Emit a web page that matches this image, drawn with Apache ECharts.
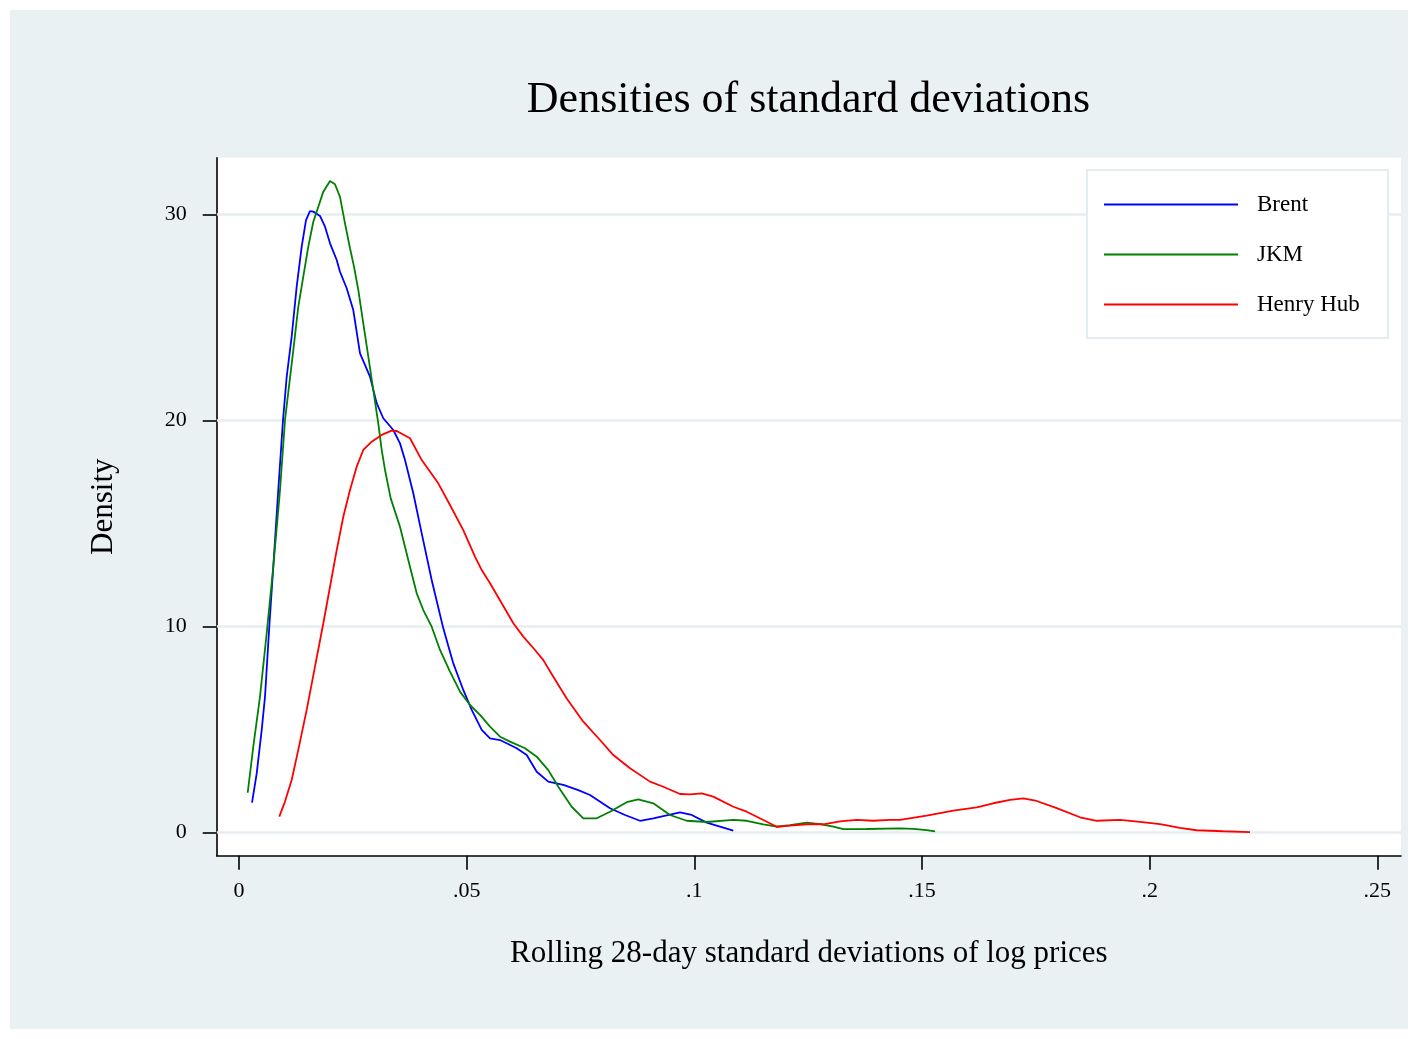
<!DOCTYPE html>
<html>
<head>
<meta charset="utf-8">
<script src="https://cdn.jsdelivr.net/npm/echarts@6.0.0/dist/echarts.min.js"></script>
<style>
  html, body { margin: 0; padding: 0; background: #ffffff; }
  #main { position: absolute; left: 10px; top: 10px; width: 1398px; height: 1019px; }
</style>
</head>
<body>
<div id="main"></div>
<script>
// tick values of the two axes
const xTicks = [0, 0.05, 0.1, 0.15, 0.2, 0.25];
const yTicks = [0, 10, 20, 30];

// kernel density curves: [std dev, density]
const brent = [
  [0.00286, 1.44], [0.00389, 2.86], [0.00499, 4.97], [0.00571, 6.58], [0.00665, 9.98],
  [0.00753, 12.89], [0.00863, 16.62], [0.00966, 20.0], [0.01048, 22.12], [0.01157, 24.06],
  [0.01267, 26.49], [0.01377, 28.43], [0.01472, 29.72], [0.01559, 30.16], [0.01632, 30.13],
  [0.01779, 29.92], [0.01889, 29.40], [0.01999, 28.59], [0.02146, 27.78], [0.02218, 27.21],
  [0.02365, 26.41], [0.02510, 25.35], [0.02658, 23.25], [0.02877, 22.12], [0.03024, 20.83],
  [0.03169, 20.10], [0.03389, 19.53], [0.03536, 18.88], [0.03646, 18.07], [0.03828, 16.46],
  [0.04013, 14.51], [0.04232, 12.25], [0.04487, 9.90], [0.04707, 8.20], [0.04926, 6.91],
  [0.05111, 5.94], [0.05331, 4.97], [0.05513, 4.56], [0.05733, 4.48], [0.06099, 4.08],
  [0.06319, 3.75], [0.06539, 2.94], [0.06793, 2.46], [0.07123, 2.30], [0.07452, 2.05],
  [0.07709, 1.81], [0.08149, 1.17], [0.08478, 0.84], [0.08807, 0.56], [0.09100, 0.68],
  [0.09686, 0.97], [0.09943, 0.84], [0.10272, 0.47], [0.10857, 0.08]
];
const jkm = [
  [0.00191, 1.92], [0.00314, 4.16], [0.00461, 6.58], [0.00608, 9.66], [0.00753, 12.89],
  [0.00901, 16.62], [0.01010, 20.01], [0.01193, 23.41], [0.01302, 25.51], [0.01412, 26.97],
  [0.01522, 28.43], [0.01632, 29.64], [0.01742, 30.37], [0.01852, 31.10], [0.01999, 31.62],
  [0.02108, 31.46], [0.02218, 30.85], [0.02328, 29.56], [0.02438, 28.35], [0.02526, 27.46],
  [0.02620, 26.33], [0.02730, 24.71], [0.02840, 23.09], [0.02950, 21.47], [0.03059, 19.85],
  [0.03134, 18.56], [0.03207, 17.59], [0.03332, 16.21], [0.03536, 14.83], [0.03718, 13.22],
  [0.03903, 11.60], [0.04048, 10.79], [0.04232, 9.98], [0.04415, 8.85], [0.04634, 7.80],
  [0.04854, 6.83], [0.05074, 6.18], [0.05293, 5.70], [0.05513, 5.13], [0.05733, 4.64],
  [0.05952, 4.40], [0.06282, 4.08], [0.06539, 3.67], [0.06793, 3.02], [0.07013, 2.21],
  [0.07307, 1.24], [0.07562, 0.68], [0.07856, 0.68], [0.08149, 1.00], [0.08515, 1.46],
  [0.08770, 1.60], [0.09100, 1.41], [0.09466, 0.84], [0.09833, 0.56], [0.10272, 0.50],
  [0.10857, 0.60], [0.11151, 0.56], [0.11516, 0.39], [0.11810, 0.27], [0.12103, 0.35],
  [0.12470, 0.47], [0.12762, 0.40], [0.13055, 0.27], [0.13273, 0.15], [0.13787, 0.16],
  [0.14518, 0.19], [0.14810, 0.17], [0.15104, 0.11], [0.15287, 0.05]
];
const henryHub = [
  [0.00885, 0.76], [0.01010, 1.49], [0.01157, 2.54], [0.01302, 4.00], [0.01487, 5.94],
  [0.01669, 8.04], [0.01852, 10.15], [0.01999, 11.92], [0.02146, 13.70], [0.02291, 15.32],
  [0.02438, 16.62], [0.02585, 17.75], [0.02730, 18.56], [0.02915, 18.96], [0.03134, 19.29],
  [0.03354, 19.50], [0.03464, 19.48], [0.03756, 19.13], [0.04013, 18.07], [0.04377, 16.94],
  [0.04634, 15.89], [0.04926, 14.67], [0.05183, 13.38], [0.05331, 12.73], [0.05513, 12.09],
  [0.05770, 11.12], [0.06025, 10.15], [0.06244, 9.50], [0.06501, 8.85], [0.06684, 8.36],
  [0.06903, 7.55], [0.07198, 6.50], [0.07562, 5.37], [0.07929, 4.48], [0.08221, 3.75],
  [0.08588, 3.11], [0.09027, 2.46], [0.09319, 2.21], [0.09686, 1.86], [0.09906, 1.84],
  [0.10162, 1.89], [0.10417, 1.73], [0.10857, 1.24], [0.11151, 1.00], [0.11516, 0.60],
  [0.11810, 0.27], [0.12103, 0.32], [0.12470, 0.39], [0.12833, 0.39], [0.13200, 0.53],
  [0.13567, 0.60], [0.13931, 0.56], [0.14298, 0.60], [0.14518, 0.60], [0.15104, 0.81],
  [0.15689, 1.05], [0.16203, 1.21], [0.16567, 1.41], [0.16934, 1.57], [0.17226, 1.65],
  [0.17520, 1.52], [0.17960, 1.17], [0.18471, 0.73], [0.18838, 0.56], [0.19350, 0.60],
  [0.19789, 0.51], [0.20229, 0.40], [0.20668, 0.22], [0.21034, 0.10], [0.21619, 0.05],
  [0.22205, 0.01]
];

const seriesNames = ['Brent', 'JKM', 'Henry Hub'];
const seriesColors = ['#0000ff', '#008000', '#ff0000'];

const serif = '"Liberation Serif", "DejaVu Serif", serif';
const axisBlack = { show: true, onZero: false, lineStyle: { color: '#000', width: 1.6 } };

let myChart = echarts.init(document.getElementById('main'));

let option = {
  backgroundColor: '#eaf1f3',
  animation: false,
  textStyle: { fontFamily: serif, color: '#000' },
  graphic: [
    {
      type: 'text',
      x: 798.5, y: 90,
      style: {
        text: 'Densities of standard deviations',
        font: '44px ' + serif,
        fill: '#000',
        align: 'center',
        verticalAlign: 'middle'
      }
    },
    {
      // legend frame
      type: 'rect',
      z: 3,
      shape: { x: 1077, y: 160, width: 301, height: 168 },
      style: { fill: '#fff', stroke: '#e4ecef', lineWidth: 2 }
    }
  ],
  legend: {
    orient: 'vertical',
    left: 1094,
    top: 183,
    padding: 0,
    z: 5,
    icon: 'rect',
    itemWidth: 134,
    itemHeight: 2,
    itemGap: 27,
    data: seriesNames,
    textStyle: { fontFamily: serif, fontSize: 23, color: '#000', padding: [0, 0, 0, 14] }
  },
  grid: [
    // plot area, holds the curves
    { left: 206.7, top: 147.7, width: 1184.3, height: 698, show: true, backgroundColor: '#fff', borderWidth: 0 },
    // x tick grid, exactly 0 .. .25
    { left: 229, top: 147.7, width: 1138.3, height: 698 },
    // y tick grid, exactly 0 .. 30
    { left: 206.7, top: 204.3, width: 1184.3, height: 618 }
  ],
  xAxis: [
    {
      gridIndex: 0, type: 'value', min: -0.004898, max: 0.255216,
      axisLine: axisBlack, axisTick: { show: false }, axisLabel: { show: false }, splitLine: { show: false },
      name: 'Rolling 28-day standard deviations of log prices',
      nameLocation: 'middle', nameGap: 83,
      nameTextStyle: { fontFamily: serif, fontSize: 31, color: '#000' }
    },
    {
      gridIndex: 1, type: 'value', min: xTicks[0], max: xTicks[xTicks.length - 1], interval: 0.05,
      axisLine: { show: false },
      axisTick: { show: true, length: 14, lineStyle: { color: '#000', width: 1.6 } },
      axisLabel: {
        margin: 25, fontFamily: serif, fontSize: 22, color: '#000',
        formatter: function (v) {
          let s = String(Number(v.toFixed(2)));
          return s === '0' ? '0' : s.replace(/^0/, '');
        }
      },
      splitLine: { show: false }
    },
    { gridIndex: 2, type: 'value', min: 0, max: 1, show: false }
  ],
  yAxis: [
    {
      gridIndex: 0, type: 'value', min: -1.1359, max: 32.748,
      axisLine: axisBlack, axisTick: { show: false }, axisLabel: { show: false }, splitLine: { show: false },
      name: 'Density', nameLocation: 'middle', nameGap: 97,
      nameTextStyle: { fontFamily: serif, fontSize: 31, color: '#000' }
    },
    { gridIndex: 1, type: 'value', min: 0, max: 1, show: false },
    {
      gridIndex: 2, type: 'value', min: yTicks[0], max: yTicks[yTicks.length - 1], interval: 10,
      z: 1,
      axisLine: { show: false },
      axisTick: { show: true, length: 14, lineStyle: { color: '#000', width: 1.6 } },
      axisLabel: { margin: 30, fontFamily: serif, fontSize: 22, color: '#000' },
      splitLine: { show: true, lineStyle: { color: '#e6eef1', width: 2.5 } }
    }
  ],
  series: [brent, jkm, henryHub].map(function (d, i) {
    return {
      name: seriesNames[i],
      type: 'line',
      xAxisIndex: 0,
      yAxisIndex: 0,
      data: d,
      showSymbol: false,
      symbol: 'none',
      z: 4,
      itemStyle: { color: seriesColors[i] },
      lineStyle: { color: seriesColors[i], width: 1.8 }
    };
  })
};

myChart.setOption(option);
</script>
</body>
</html>
